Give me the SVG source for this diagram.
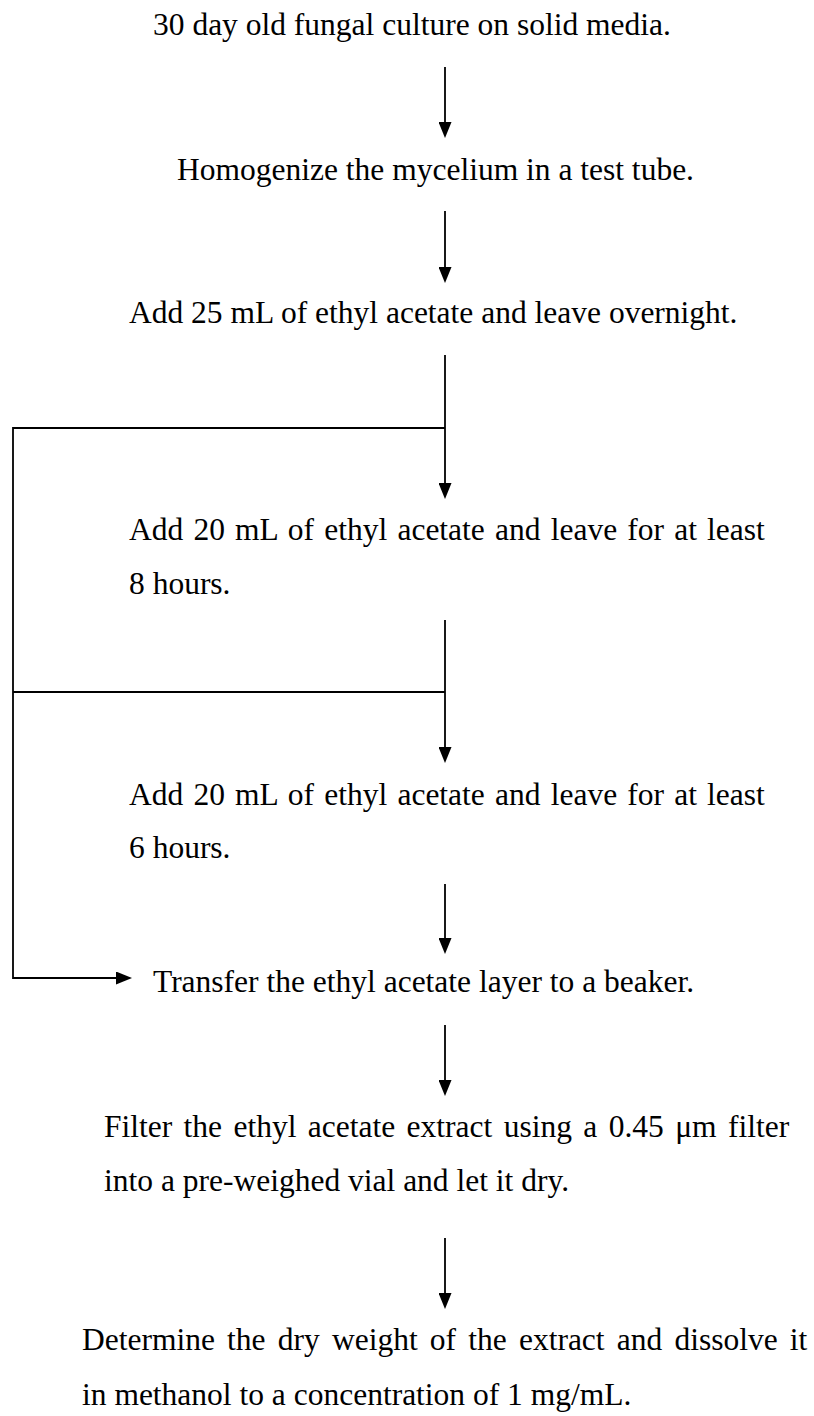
<svg xmlns="http://www.w3.org/2000/svg" width="814" height="1416" viewBox="0 0 814 1416">
<style>
.t{font-family:"Liberation Serif","Times New Roman",serif;font-size:31.5px;fill:#000}
.c{stroke:#000;stroke-width:1.8;fill:none}
</style>
<defs>
<marker id="ah" markerWidth="16" markerHeight="13" refX="6" refY="6.5" orient="auto" markerUnits="userSpaceOnUse">
<path d="M0,0 L16,6.5 L0,13 Z" fill="#000"/>
</marker>
</defs>
<rect width="814" height="1416" fill="#fff"/>
<g id="connectors">
<line class="c" x1="445" y1="67" x2="445" y2="128" marker-end="url(#ah)"/>
<line class="c" x1="445" y1="211" x2="445" y2="273" marker-end="url(#ah)"/>
<line class="c" x1="445" y1="355" x2="445" y2="489" marker-end="url(#ah)"/>
<polyline class="c" points="445,428 13,428 13,978 122,978" marker-end="url(#ah)"/>
<line class="c" x1="445" y1="620" x2="445" y2="753" marker-end="url(#ah)"/>
<line class="c" x1="445" y1="692" x2="13" y2="692"/>
<line class="c" x1="445" y1="884" x2="445" y2="944" marker-end="url(#ah)"/>
<line class="c" x1="445" y1="1025" x2="445" y2="1086" marker-end="url(#ah)"/>
<line class="c" x1="445" y1="1238" x2="445" y2="1299" marker-end="url(#ah)"/>
</g>
<g id="n1"><text class="t" x="153" y="35">30 day old fungal culture on solid media.</text></g>
<g id="n2"><text class="t" x="177" y="180">Homogenize the mycelium in a test tube.</text></g>
<g id="n3"><text class="t" x="129" y="323">Add 25 mL of ethyl acetate and leave overnight.</text></g>
<g id="n4"><text class="t" x="129" y="540" word-spacing="2.3">Add 20 mL of ethyl acetate and leave for at least</text><text class="t" x="129" y="594">8 hours.</text></g>
<g id="n5"><text class="t" x="129" y="805" word-spacing="2.3">Add 20 mL of ethyl acetate and leave for at least</text><text class="t" x="129" y="858">6 hours.</text></g>
<g id="n6"><text class="t" x="153" y="992">Transfer the ethyl acetate layer to a beaker.</text></g>
<g id="n7"><text class="t" x="104" y="1137" word-spacing="3.5">Filter the ethyl acetate extract using a 0.45 μm filter</text><text class="t" x="104" y="1191">into a pre-weighed vial and let it dry.</text></g>
<g id="n8"><text class="t" x="82" y="1350" word-spacing="4.3">Determine the dry weight of the extract and dissolve it</text><text class="t" x="82" y="1405">in methanol to a concentration of 1 mg/mL.</text></g>
</svg>
